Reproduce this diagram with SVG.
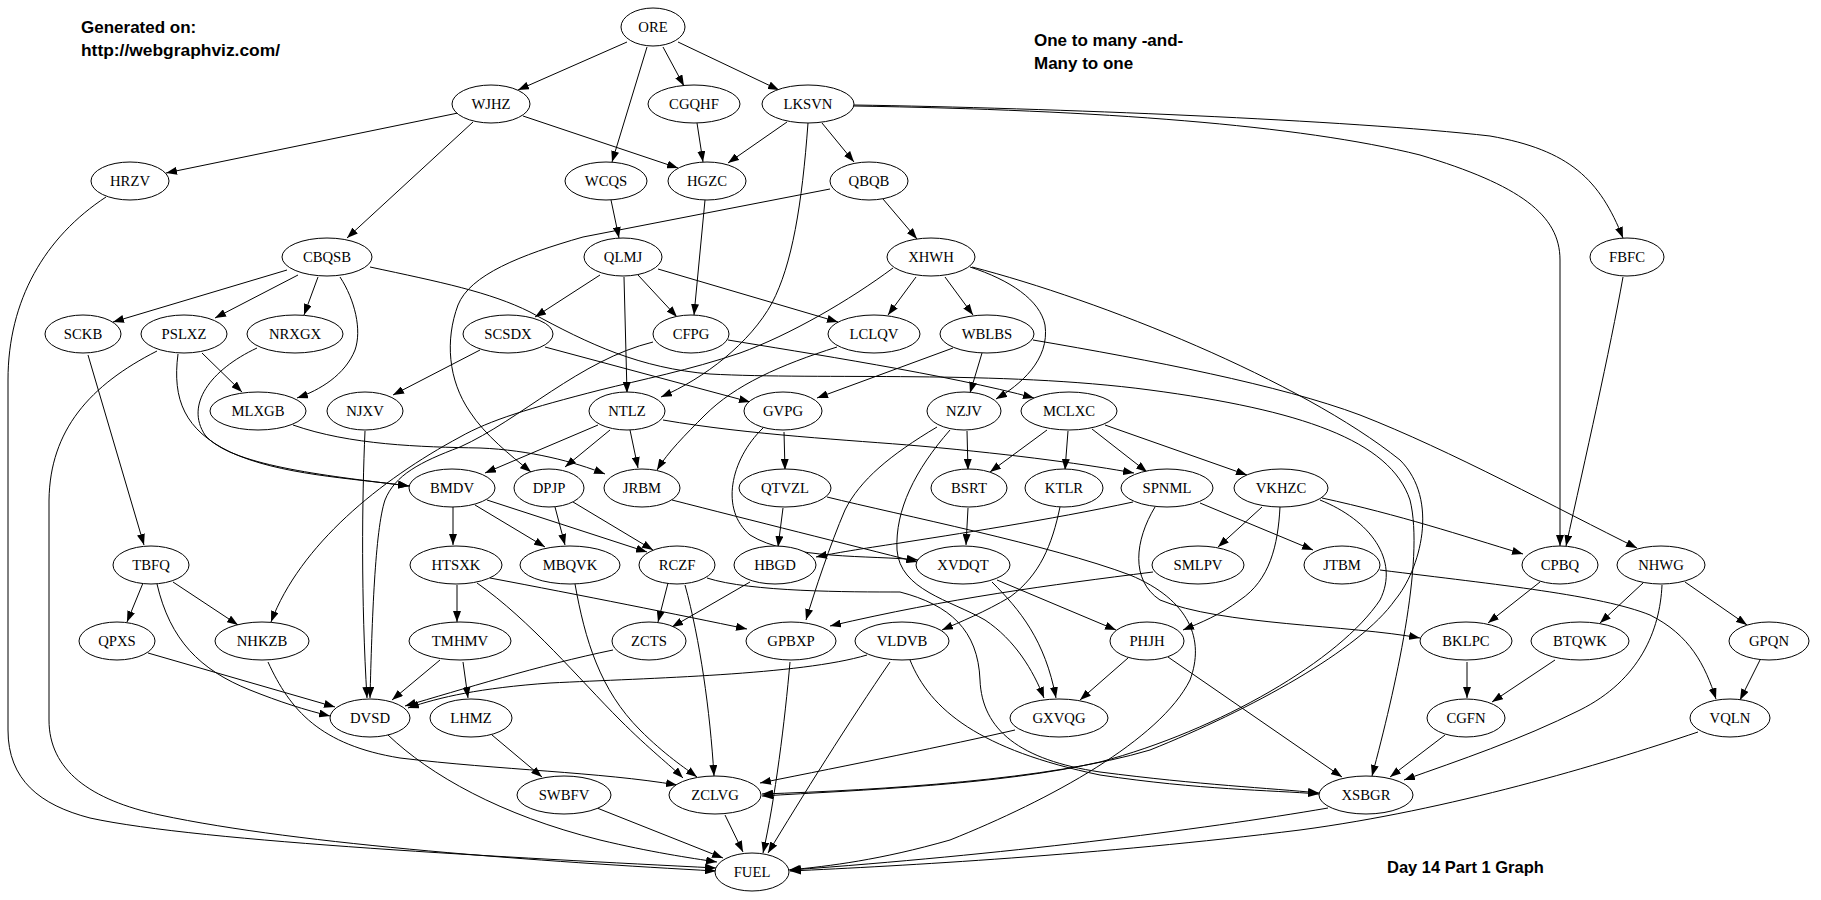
<svg xmlns="http://www.w3.org/2000/svg" width="1821" height="900" viewBox="0 0 1821 900">
<style>
  .n ellipse { fill: #fff; stroke: #000; stroke-width: 1; }
  .n text { font-family: "Liberation Serif", "Times New Roman", serif; font-size: 14.7px; text-anchor: middle; fill: #000; }
  #edges path { fill: none; stroke: #000; stroke-width: 1; marker-end: url(#arr); }
  .note { font-family: "Liberation Sans", Arial, sans-serif; font-weight: bold; font-size: 17px; fill: #000; }
</style>
<defs>
  <marker id="arr" viewBox="0 0 11 8" refX="11" refY="4" markerWidth="11" markerHeight="8" markerUnits="userSpaceOnUse" orient="auto">
    <path d="M0,0 L11,4 L0,8 z" fill="#000"/>
  </marker>
</defs>
<rect width="1821" height="900" fill="#fff"/>

<text class="note" x="81" y="33">Generated on:</text>
<text class="note" x="81" y="56" style="font-size:17.4px">http://webgraphviz.com/</text>
<text class="note" x="1034" y="46">One to many -and-</text>
<text class="note" x="1034" y="69">Many to one</text>
<text class="note" x="1387" y="873" style="font-size:16.5px">Day 14 Part 1 Graph</text>

<g id="edges">
  <path d="M627,42 L518,90"/>
  <path d="M647,47 L612,162"/>
  <path d="M663,47 L684,86"/>
  <path d="M678,42 L779,90"/>
  <path d="M458,113 L166,173"/>
  <path d="M523,116 L678,168"/>
  <path d="M473,122 L347,238"/>
  <path d="M697,123 L703,162"/>
  <path d="M787,122 L728,163"/>
  <path d="M822,123 L854,162"/>
  <path d="M808,123 C802,205 792,265 772,303 C750,343 705,378 661,397"/>
  <path d="M854,105 C1050,108 1350,120 1490,136 C1570,150 1600,180 1623,238"/>
  <path d="M854,106 C1100,110 1300,125 1420,155 C1520,185 1560,215 1560,260 L1560,546"/>
  <path d="M106,197 C45,237 8,300 8,380 L8,730 C8,780 40,805 90,818 C200,842 520,858 716,868"/>
  <path d="M611,200 L619,238"/>
  <path d="M705,200 L694,315"/>
  <path d="M883,199 L917,239"/>
  <path d="M830,189 L583,237 C520,255 470,275 458,305 C445,340 448,380 470,412 C485,435 510,455 531,472"/>
  <path d="M287,270 L113,322"/>
  <path d="M298,275 L215,318"/>
  <path d="M318,277 L304,315"/>
  <path d="M340,277 C355,300 362,330 355,350 C345,375 320,390 297,398"/>
  <path d="M370,267 C440,282 490,292 530,312 C590,345 640,368 710,374 C820,380 1000,370 1150,390 C1300,410 1390,440 1410,500 C1425,560 1395,690 1372,776"/>
  <path d="M600,275 L535,317"/>
  <path d="M638,275 L677,317"/>
  <path d="M624,277 L627,393"/>
  <path d="M658,269 L838,322"/>
  <path d="M916,277 L888,315"/>
  <path d="M945,277 L973,315"/>
  <path d="M970,267 C1010,280 1040,300 1045,325 C1050,360 1020,385 996,399"/>
  <path d="M972,267 C1100,300 1300,380 1400,460 C1440,500 1420,570 1395,600 C1360,650 1250,710 1150,750 C1050,780 880,790 762,794"/>
  <path d="M893,268 C850,300 790,335 740,353 C690,370 640,380 600,390 C530,408 490,420 460,437 C380,480 300,545 271,622"/>
  <path d="M88,355 L144,545"/>
  <path d="M202,353 L242,392"/>
  <path d="M178,354 C172,400 185,430 230,452 C280,475 350,478 409,486"/>
  <path d="M157,351 C90,385 50,430 49,500 L49,720 C49,770 90,800 160,815 C300,845 550,862 716,871"/>
  <path d="M257,348 C210,370 185,405 205,435 C230,465 320,475 409,486"/>
  <path d="M293,425 C350,445 420,447 480,448 C530,450 575,462 605,474"/>
  <path d="M365,431 C362,500 361,600 367,698"/>
  <path d="M480,350 L393,395"/>
  <path d="M545,347 L750,402"/>
  <path d="M728,340 C800,352 950,375 1034,398"/>
  <path d="M653,342 C580,360 520,420 460,447 C420,462 395,475 385,500 C375,530 372,620 370,698"/>
  <path d="M837,347 C780,365 735,385 705,415 C685,435 668,452 657,470"/>
  <path d="M953,348 L817,398"/>
  <path d="M982,353 L970,393"/>
  <path d="M1033,340 C1150,360 1280,385 1360,415 C1450,450 1560,510 1637,548"/>
  <path d="M598,425 L485,473"/>
  <path d="M610,430 L565,467"/>
  <path d="M630,430 L638,468"/>
  <path d="M663,420 C750,435 850,440 920,446 C1020,455 1090,465 1134,473"/>
  <path d="M784,432 L785,470"/>
  <path d="M763,428 C730,460 720,510 750,535 C790,560 870,555 918,560"/>
  <path d="M672,500 C750,520 850,545 917,562"/>
  <path d="M967,431 L968,470"/>
  <path d="M937,427 C890,455 860,480 845,510 C830,545 815,590 806,620"/>
  <path d="M950,430 C915,470 895,510 897,550 C900,590 950,600 985,620 C1015,640 1033,670 1044,698"/>
  <path d="M1047,430 L990,472"/>
  <path d="M1068,431 L1065,470"/>
  <path d="M1092,429 L1147,472"/>
  <path d="M1105,425 L1247,475"/>
  <path d="M783,508 L778,547"/>
  <path d="M827,497 C900,515 1050,545 1130,575 C1190,600 1205,640 1190,680 C1160,740 1050,800 950,840 C880,860 830,866 789,870"/>
  <path d="M968,508 L966,545"/>
  <path d="M1060,507 C1052,545 1040,575 1010,597 C985,612 960,622 942,630"/>
  <path d="M1133,502 C1050,520 950,535 900,543 C860,549 835,553 816,557"/>
  <path d="M1200,503 L1313,550"/>
  <path d="M1155,507 C1135,540 1130,580 1160,600 C1220,625 1350,625 1420,638"/>
  <path d="M1262,507 L1218,547"/>
  <path d="M1280,507 C1278,545 1270,580 1240,600 C1220,615 1200,623 1183,630"/>
  <path d="M1322,498 C1400,515 1460,535 1523,554"/>
  <path d="M1320,500 C1370,520 1400,560 1380,600 C1340,660 1220,730 1100,762 C1000,785 860,790 762,796"/>
  <path d="M997,580 L1116,630"/>
  <path d="M992,582 C1020,610 1045,640 1056,698"/>
  <path d="M1153,572 C1050,585 950,598 830,626"/>
  <path d="M1380,570 C1500,585 1600,595 1650,615 C1690,635 1705,665 1716,699"/>
  <path d="M1540,582 L1488,623"/>
  <path d="M1643,583 L1600,623"/>
  <path d="M1685,582 L1747,625"/>
  <path d="M1662,585 C1660,630 1640,680 1580,710 C1520,740 1460,760 1404,780"/>
  <path d="M457,585 L457,622"/>
  <path d="M490,578 C580,595 680,615 747,629"/>
  <path d="M477,583 C530,620 580,680 620,720 C650,750 670,765 683,778"/>
  <path d="M575,584 C585,640 600,690 640,730 C665,755 685,768 697,777"/>
  <path d="M668,583 L658,622"/>
  <path d="M685,585 C700,640 710,710 714,776"/>
  <path d="M707,578 C750,592 850,592 900,592 C950,605 978,630 980,680 C982,730 1020,760 1100,772 C1200,785 1270,788 1319,793"/>
  <path d="M750,582 L672,627"/>
  <path d="M555,507 L565,545"/>
  <path d="M573,502 L653,550"/>
  <path d="M453,507 L453,545"/>
  <path d="M475,505 L545,547"/>
  <path d="M487,500 L647,552"/>
  <path d="M143,583 L127,622"/>
  <path d="M173,582 L238,625"/>
  <path d="M157,584 C170,640 200,670 250,690 C280,702 305,710 330,716"/>
  <path d="M148,653 L335,707"/>
  <path d="M268,662 C290,710 320,745 400,758 C500,770 600,772 677,785"/>
  <path d="M440,660 L392,700"/>
  <path d="M463,662 L468,698"/>
  <path d="M613,650 C540,665 460,690 405,706"/>
  <path d="M867,655 C800,675 650,678 550,683 C480,688 440,697 408,708"/>
  <path d="M890,662 C850,720 800,800 768,853"/>
  <path d="M910,660 C930,710 980,750 1100,775 C1200,790 1270,790 1319,794"/>
  <path d="M790,662 C785,720 775,800 763,853"/>
  <path d="M1128,658 L1080,700"/>
  <path d="M1168,657 L1342,777"/>
  <path d="M1015,730 C950,745 850,765 760,783"/>
  <path d="M492,735 L542,777"/>
  <path d="M388,735 C430,775 500,815 600,840 C650,852 690,858 717,862"/>
  <path d="M597,808 L723,858"/>
  <path d="M725,815 L743,852"/>
  <path d="M1328,808 C1200,830 1000,855 790,870"/>
  <path d="M1698,732 C1600,765 1450,810 1300,830 C1100,855 900,866 790,871"/>
  <path d="M1467,662 L1467,698"/>
  <path d="M1555,660 L1492,702"/>
  <path d="M1445,735 L1390,777"/>
  <path d="M1760,660 L1740,700"/>
  <path d="M1623,277 C1610,350 1585,460 1566,546"/>
</g>

<g id="node-ORE" class="n"><ellipse cx="653" cy="27" rx="32" ry="19"/><text x="653" y="32">ORE</text></g>
<g id="node-WJHZ" class="n"><ellipse cx="491" cy="104" rx="39" ry="19"/><text x="491" y="109">WJHZ</text></g>
<g id="node-CGQHF" class="n"><ellipse cx="694" cy="104" rx="46" ry="19"/><text x="694" y="109">CGQHF</text></g>
<g id="node-LKSVN" class="n"><ellipse cx="808" cy="104" rx="46" ry="19"/><text x="808" y="109">LKSVN</text></g>
<g id="node-HRZV" class="n"><ellipse cx="130" cy="181" rx="39" ry="19"/><text x="130" y="186">HRZV</text></g>
<g id="node-WCQS" class="n"><ellipse cx="606" cy="181" rx="41" ry="19"/><text x="606" y="186">WCQS</text></g>
<g id="node-HGZC" class="n"><ellipse cx="707" cy="181" rx="39" ry="19"/><text x="707" y="186">HGZC</text></g>
<g id="node-QBQB" class="n"><ellipse cx="869" cy="181" rx="39" ry="19"/><text x="869" y="186">QBQB</text></g>
<g id="node-CBQSB" class="n"><ellipse cx="327" cy="257" rx="45" ry="19"/><text x="327" y="262">CBQSB</text></g>
<g id="node-QLMJ" class="n"><ellipse cx="623" cy="257" rx="39" ry="19"/><text x="623" y="262">QLMJ</text></g>
<g id="node-XHWH" class="n"><ellipse cx="931" cy="257" rx="44" ry="19"/><text x="931" y="262">XHWH</text></g>
<g id="node-FBFC" class="n"><ellipse cx="1627" cy="257" rx="37" ry="19"/><text x="1627" y="262">FBFC</text></g>
<g id="node-SCKB" class="n"><ellipse cx="83" cy="334" rx="38" ry="19"/><text x="83" y="339">SCKB</text></g>
<g id="node-PSLXZ" class="n"><ellipse cx="184" cy="334" rx="43" ry="19"/><text x="184" y="339">PSLXZ</text></g>
<g id="node-NRXGX" class="n"><ellipse cx="295" cy="334" rx="48" ry="19"/><text x="295" y="339">NRXGX</text></g>
<g id="node-SCSDX" class="n"><ellipse cx="508" cy="334" rx="45" ry="19"/><text x="508" y="339">SCSDX</text></g>
<g id="node-CFPG" class="n"><ellipse cx="691" cy="334" rx="38" ry="19"/><text x="691" y="339">CFPG</text></g>
<g id="node-LCLQV" class="n"><ellipse cx="874" cy="334" rx="46" ry="19"/><text x="874" y="339">LCLQV</text></g>
<g id="node-WBLBS" class="n"><ellipse cx="987" cy="334" rx="47" ry="19"/><text x="987" y="339">WBLBS</text></g>
<g id="node-MLXGB" class="n"><ellipse cx="258" cy="411" rx="48" ry="19"/><text x="258" y="416">MLXGB</text></g>
<g id="node-NJXV" class="n"><ellipse cx="365" cy="411" rx="38" ry="19"/><text x="365" y="416">NJXV</text></g>
<g id="node-NTLZ" class="n"><ellipse cx="627" cy="411" rx="38" ry="19"/><text x="627" y="416">NTLZ</text></g>
<g id="node-GVPG" class="n"><ellipse cx="783" cy="411" rx="39" ry="19"/><text x="783" y="416">GVPG</text></g>
<g id="node-NZJV" class="n"><ellipse cx="964" cy="411" rx="37" ry="19"/><text x="964" y="416">NZJV</text></g>
<g id="node-MCLXC" class="n"><ellipse cx="1069" cy="411" rx="48" ry="19"/><text x="1069" y="416">MCLXC</text></g>
<g id="node-BMDV" class="n"><ellipse cx="452" cy="488" rx="43" ry="19"/><text x="452" y="493">BMDV</text></g>
<g id="node-DPJP" class="n"><ellipse cx="549" cy="488" rx="35" ry="19"/><text x="549" y="493">DPJP</text></g>
<g id="node-JRBM" class="n"><ellipse cx="642" cy="488" rx="38" ry="19"/><text x="642" y="493">JRBM</text></g>
<g id="node-QTVZL" class="n"><ellipse cx="785" cy="488" rx="46" ry="19"/><text x="785" y="493">QTVZL</text></g>
<g id="node-BSRT" class="n"><ellipse cx="969" cy="488" rx="38" ry="19"/><text x="969" y="493">BSRT</text></g>
<g id="node-KTLR" class="n"><ellipse cx="1064" cy="488" rx="39" ry="19"/><text x="1064" y="493">KTLR</text></g>
<g id="node-SPNML" class="n"><ellipse cx="1167" cy="488" rx="46" ry="19"/><text x="1167" y="493">SPNML</text></g>
<g id="node-VKHZC" class="n"><ellipse cx="1281" cy="488" rx="47" ry="19"/><text x="1281" y="493">VKHZC</text></g>
<g id="node-TBFQ" class="n"><ellipse cx="151" cy="565" rx="38" ry="19"/><text x="151" y="570">TBFQ</text></g>
<g id="node-HTSXK" class="n"><ellipse cx="456" cy="565" rx="46" ry="19"/><text x="456" y="570">HTSXK</text></g>
<g id="node-MBQVK" class="n"><ellipse cx="570" cy="565" rx="50" ry="19"/><text x="570" y="570">MBQVK</text></g>
<g id="node-RCZF" class="n"><ellipse cx="677" cy="565" rx="38" ry="19"/><text x="677" y="570">RCZF</text></g>
<g id="node-HBGD" class="n"><ellipse cx="775" cy="565" rx="41" ry="19"/><text x="775" y="570">HBGD</text></g>
<g id="node-XVDQT" class="n"><ellipse cx="963" cy="565" rx="47" ry="19"/><text x="963" y="570">XVDQT</text></g>
<g id="node-SMLPV" class="n"><ellipse cx="1198" cy="565" rx="46" ry="19"/><text x="1198" y="570">SMLPV</text></g>
<g id="node-JTBM" class="n"><ellipse cx="1342" cy="565" rx="38" ry="19"/><text x="1342" y="570">JTBM</text></g>
<g id="node-CPBQ" class="n"><ellipse cx="1560" cy="565" rx="38" ry="19"/><text x="1560" y="570">CPBQ</text></g>
<g id="node-NHWG" class="n"><ellipse cx="1661" cy="565" rx="44" ry="19"/><text x="1661" y="570">NHWG</text></g>
<g id="node-QPXS" class="n"><ellipse cx="117" cy="641" rx="38" ry="19"/><text x="117" y="646">QPXS</text></g>
<g id="node-NHKZB" class="n"><ellipse cx="262" cy="641" rx="47" ry="19"/><text x="262" y="646">NHKZB</text></g>
<g id="node-TMHMV" class="n"><ellipse cx="460" cy="641" rx="51" ry="19"/><text x="460" y="646">TMHMV</text></g>
<g id="node-ZCTS" class="n"><ellipse cx="649" cy="641" rx="37" ry="19"/><text x="649" y="646">ZCTS</text></g>
<g id="node-GPBXP" class="n"><ellipse cx="791" cy="641" rx="45" ry="19"/><text x="791" y="646">GPBXP</text></g>
<g id="node-VLDVB" class="n"><ellipse cx="902" cy="641" rx="47" ry="19"/><text x="902" y="646">VLDVB</text></g>
<g id="node-PHJH" class="n"><ellipse cx="1147" cy="641" rx="37" ry="19"/><text x="1147" y="646">PHJH</text></g>
<g id="node-BKLPC" class="n"><ellipse cx="1466" cy="641" rx="46" ry="19"/><text x="1466" y="646">BKLPC</text></g>
<g id="node-BTQWK" class="n"><ellipse cx="1580" cy="641" rx="49" ry="19"/><text x="1580" y="646">BTQWK</text></g>
<g id="node-GPQN" class="n"><ellipse cx="1769" cy="641" rx="40" ry="19"/><text x="1769" y="646">GPQN</text></g>
<g id="node-DVSD" class="n"><ellipse cx="370" cy="718" rx="40" ry="19"/><text x="370" y="723">DVSD</text></g>
<g id="node-LHMZ" class="n"><ellipse cx="471" cy="718" rx="41" ry="19"/><text x="471" y="723">LHMZ</text></g>
<g id="node-GXVQG" class="n"><ellipse cx="1059" cy="718" rx="49" ry="19"/><text x="1059" y="723">GXVQG</text></g>
<g id="node-CGFN" class="n"><ellipse cx="1466" cy="718" rx="39" ry="19"/><text x="1466" y="723">CGFN</text></g>
<g id="node-VQLN" class="n"><ellipse cx="1730" cy="718" rx="40" ry="19"/><text x="1730" y="723">VQLN</text></g>
<g id="node-SWBFV" class="n"><ellipse cx="564" cy="795" rx="47" ry="19"/><text x="564" y="800">SWBFV</text></g>
<g id="node-ZCLVG" class="n"><ellipse cx="715" cy="795" rx="46" ry="19"/><text x="715" y="800">ZCLVG</text></g>
<g id="node-XSBGR" class="n"><ellipse cx="1366" cy="795" rx="47" ry="19"/><text x="1366" y="800">XSBGR</text></g>
<g id="node-FUEL" class="n"><ellipse cx="752" cy="872" rx="37" ry="19"/><text x="752" y="877">FUEL</text></g>
</svg>
